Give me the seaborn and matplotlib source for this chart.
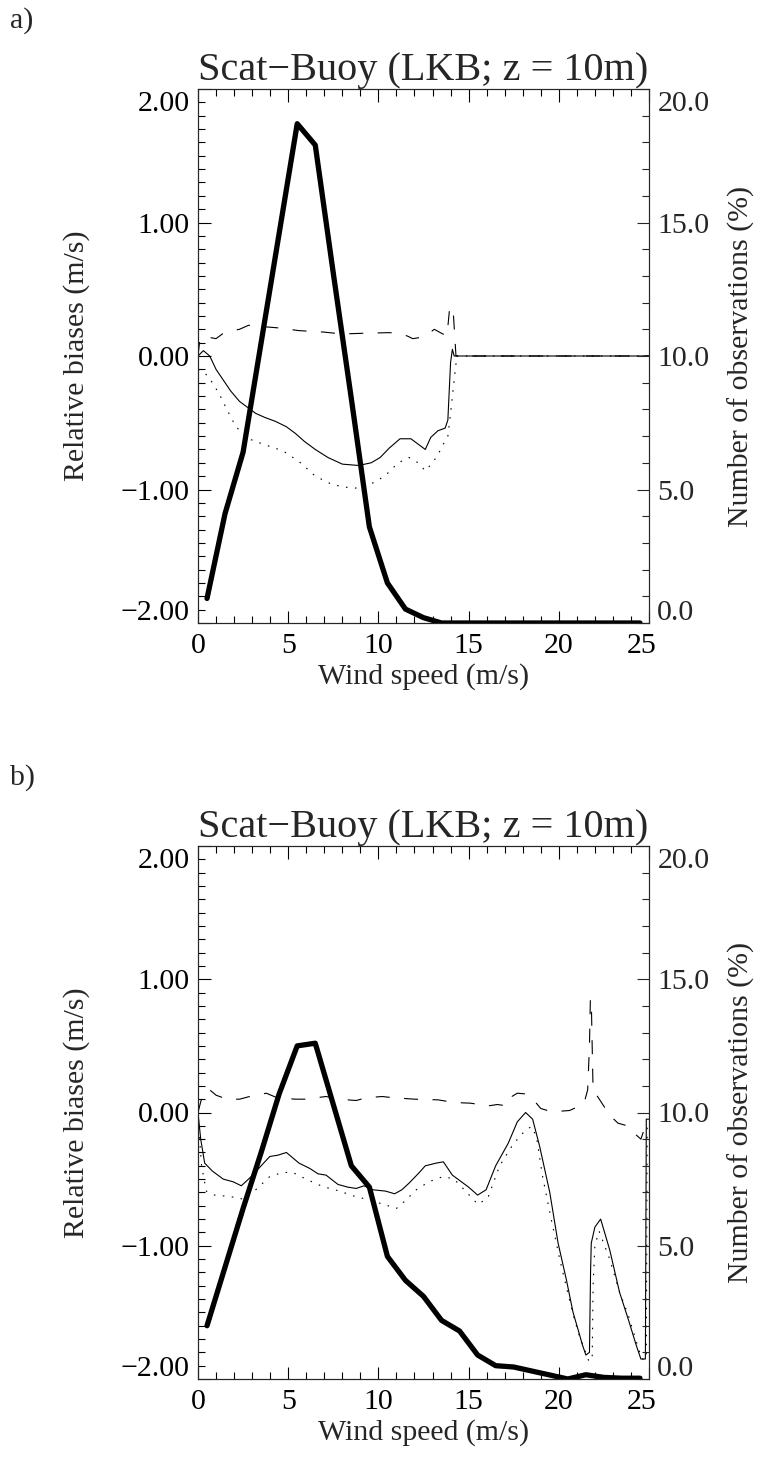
import matplotlib
matplotlib.use("Agg")
import seaborn as sns
from matplotlib import pyplot as plt
from matplotlib import transforms
from matplotlib.ticker import FixedLocator, MultipleLocator, FuncFormatter

# ---- data ----
wind_bins = [0.5, 1.5, 2.5, 3.5, 4.5, 5.5, 6.5, 7.5, 8.5, 9.5, 10.5, 11.5, 12.5,
             13.5, 14.5, 15.5, 16.5, 17.5, 18.5, 19.5, 20.5, 21.5, 22.5, 23.5, 24.5]

# number of observations (%), panel a / b
obs_a = [0.92, 4.1, 6.4, 10.5, 14.6, 18.7, 17.9, 13.1, 8.4, 3.6, 1.5, 0.52, 0.2,
         0.0, 0.0, 0.0, 0.0, 0.0, 0.0, 0.0, 0.0, 0.0, 0.0, 0.0, 0.0]
obs_b = [2.0, 4.2, 6.4, 8.5, 10.7, 12.5, 12.6, 10.3, 8.0, 7.2, 4.6, 3.7, 3.1,
         2.2, 1.8, 0.9, 0.5, 0.45, 0.3, 0.15, 0.0, 0.16, 0.06, 0.03, 0.03]

# panel a, relative biases (m/s)
a_solid_x = [0.0, 0.3, 0.65, 1.0, 1.4, 1.8, 2.3, 2.8, 3.2, 3.7, 4.3, 4.9, 5.4, 5.9, 6.5,
             7.2, 8.0, 8.9, 9.6, 10.1, 10.6, 11.2, 11.8, 12.2, 12.6, 12.9, 13.3, 13.7,
             13.85, 14.0, 14.1, 14.2, 25.0]
a_solid_y = [0.0, 0.04, 0.0, -0.10, -0.18, -0.26, -0.34, -0.39, -0.43, -0.46, -0.49, -0.53,
             -0.58, -0.64, -0.70, -0.76, -0.81, -0.82, -0.80, -0.76, -0.69, -0.62, -0.62,
             -0.66, -0.70, -0.61, -0.56, -0.54, -0.48, -0.05, 0.05, 0.0, 0.0]

a_dot_x = [0.0, 0.4, 0.8, 1.2, 1.6, 2.1, 2.8, 3.6, 4.7, 5.6, 6.5, 7.4, 8.0, 8.7, 9.4, 10.0,
           10.5, 11.1, 11.7, 12.2, 12.6, 13.0, 13.3, 13.6, 13.85, 14.0, 14.2, 14.35, 25.0]
a_dot_y = [-0.10, -0.13, -0.20, -0.29, -0.40, -0.53, -0.62, -0.66, -0.71, -0.79, -0.90, -0.96,
           -0.98, -0.99, -0.97, -0.93, -0.88, -0.80, -0.76, -0.80, -0.86, -0.80, -0.74, -0.66,
           -0.60, -0.43, -0.18, 0.0, 0.0]

a_dash_x = [0.0, 0.1, 0.2, 0.6, 1.0, 1.4, 1.9, 2.3, 2.8, 3.6, 4.5, 5.6, 6.9, 8.0, 9.1, 10.6,
            11.1, 11.6, 11.9, 12.4, 12.8, 13.1, 13.5, 13.8, 13.95, 14.0, 14.15, 14.2, 14.3, 25.0]
a_dash_y = [0.0, 0.12, 0.14, 0.14, 0.13, 0.17, 0.19, 0.20, 0.23, 0.22, 0.21, 0.19, 0.18, 0.165,
            0.17, 0.175, 0.17, 0.15, 0.13, 0.14, 0.17, 0.20, 0.17, 0.15, 0.36, 0.37, 0.33,
            0.22, 0.0, 0.0]

# panel b, relative biases (m/s)
b_solid_x = [0.0, 0.15, 0.37, 0.8, 1.4, 1.95, 2.4, 2.96, 3.5, 3.98, 4.44, 4.9, 5.6, 6.2, 6.65,
             7.1, 7.76, 8.3, 8.77, 9.2, 9.7, 10.4, 10.9, 11.3, 11.7, 12.2, 12.6, 13.2, 13.6,
             14.1, 14.6, 15.0, 15.5, 15.97, 16.5, 17.2, 17.7, 18.16, 18.55, 18.94, 19.5, 19.96,
             20.42, 20.79, 21.07, 21.3, 21.5, 21.7, 21.76, 21.8, 22.0, 22.32, 22.82, 23.37,
             23.87, 24.3, 24.55, 24.8, 24.85, 25.0]
b_solid_y = [0.0, -0.2, -0.38, -0.44, -0.50, -0.52, -0.55, -0.48, -0.40, -0.33, -0.32, -0.30,
             -0.38, -0.42, -0.46, -0.47, -0.54, -0.56, -0.57, -0.55, -0.58, -0.59, -0.61, -0.58,
             -0.53, -0.46, -0.40, -0.38, -0.37, -0.47, -0.52, -0.56, -0.62, -0.58, -0.40, -0.23,
             -0.07, 0.0, -0.05, -0.255, -0.60, -0.98, -1.255, -1.50, -1.63, -1.74, -1.82, -1.80,
             -1.2, -0.98, -0.86, -0.80, -1.03, -1.35, -1.56, -1.75, -1.85, -1.85, -0.05, -0.05]

b_dot_x = [0.0, 0.2, 0.46, 0.92, 1.75, 2.5, 3.2, 3.98, 4.7, 5.25, 5.99, 6.9, 7.85, 8.7, 9.5,
           10.3, 11.0, 11.5, 12.1, 12.8, 13.6, 14.2, 14.9, 15.52, 16.07, 16.72, 17.46, 18.1,
           18.48, 18.76, 19.1, 19.58, 20.05, 20.42, 20.8, 21.1, 21.4, 21.65, 21.85, 21.9, 22.0,
           22.23, 22.82, 23.37, 23.85, 24.3, 24.6, 24.85, 24.9, 25.0]
b_dot_y = [-0.05, -0.4, -0.59, -0.62, -0.63, -0.65, -0.58, -0.48, -0.45, -0.45, -0.50, -0.555,
           -0.59, -0.63, -0.655, -0.69, -0.72, -0.66, -0.58, -0.52, -0.48, -0.50, -0.60, -0.69,
           -0.64, -0.40, -0.24, -0.14, -0.105, -0.18, -0.48, -0.80, -1.10, -1.31, -1.52, -1.66,
           -1.77, -1.86, -1.86, -1.3, -1.0, -0.89, -1.10, -1.35, -1.52, -1.72, -1.85, -1.85,
           -0.1, -0.1]

b_dash_x = [0.0, 0.15, 0.35, 0.65, 1.0, 1.6, 2.31, 2.86, 3.3, 3.78, 4.4, 5.4, 6.0, 6.5, 7.1,
            7.8, 8.77, 9.3, 10.2, 10.9, 12.0, 13.3, 14.2, 15.1, 16.1, 16.6, 17.1, 17.4, 17.7,
            18.1, 18.6, 19.0, 19.5, 20.1, 20.6, 21.0, 21.4, 21.6, 21.7, 21.75, 21.8, 21.85,
            21.9, 22.0, 22.27, 22.82, 23.28, 23.8, 24.3, 24.55, 24.75, 25.0]
b_dash_y = [0.0, 0.08, 0.16, 0.17, 0.13, 0.10, 0.10, 0.12, 0.13, 0.145, 0.11, 0.10, 0.10, 0.11,
            0.12, 0.10, 0.09, 0.11, 0.12, 0.11, 0.10, 0.095, 0.075, 0.07, 0.05, 0.06, 0.05,
            0.12, 0.145, 0.14, 0.095, 0.03, 0.01, 0.01, 0.015, 0.04, 0.07, 0.17, 0.5, 0.85,
            0.85, 0.5, 0.17, 0.15, 0.095, -0.02, -0.08, -0.10, -0.17, -0.20, -0.12, -0.08]

TITLE = "Scat\u2212Buoy (LKB; z = 10m)"

sns.set_style("ticks")
plt.rcParams['font.family'] = ['Liberation Serif', 'DejaVu Serif']
plt.rcParams['axes.linewidth'] = 0.8
FS = 21.5


def fmt(decimals):
    return FuncFormatter(lambda v, p: f"{v:.{decimals}f}".replace('-', '\u2212'))


def shift(label, fig, dx_px, dy_px):
    off = transforms.ScaledTranslation(dx_px / 100, dy_px / 100, fig.dpi_scale_trans)
    label.set_transform(label.get_transform() + off)


def draw_panel(fig, ax, solid, dot, dash, obs):
    sns.lineplot(x=solid[0], y=solid[1], ax=ax, color='black', linewidth=0.8,
                 estimator=None, sort=False)
    sns.lineplot(x=dot[0], y=dot[1], ax=ax, color='black', linewidth=0.8,
                 linestyle=(0, (1.4, 6.7)), estimator=None, sort=False)
    sns.lineplot(x=dash[0], y=dash[1], ax=ax, color='black', linewidth=0.8,
                 linestyle=(0, (12.6, 13.0)), estimator=None, sort=False)
    ax.set_xlim(0, 25)
    ax.set_ylim(-2, 2)
    ax.xaxis.set_major_locator(FixedLocator([0, 5, 10, 15, 20, 25]))
    ax.xaxis.set_minor_locator(MultipleLocator(1))
    ax.yaxis.set_major_locator(FixedLocator([-2, -1, 0, 1, 2]))
    ax.yaxis.set_minor_locator(MultipleLocator(0.1))
    ax.yaxis.set_major_formatter(fmt(2))
    ax.tick_params(which='both', direction='in', top=True, right=False,
                   labelsize=FS, width=0.8, colors='black')
    ax.tick_params(which='major', length=9)
    ax.tick_params(which='minor', length=5)
    ax.tick_params(axis='x', pad=7)
    ax.tick_params(axis='y', pad=6)
    ax.set_xlabel('Wind speed (m/s)', fontsize=FS, labelpad=3)
    ax.set_ylabel('Relative biases (m/s)', fontsize=FS, labelpad=22)
    ax.set_title(TITLE, fontsize=29, pad=5)

    ax2 = ax.twinx()
    sns.lineplot(x=wind_bins, y=obs, ax=ax2, color='black', linewidth=3.8,
                 estimator=None, sort=False)
    ax2.set_ylim(0, 20)
    ax2.yaxis.set_major_locator(FixedLocator([0, 5, 10, 15, 20]))
    ax2.yaxis.set_minor_locator(MultipleLocator(1))
    ax2.yaxis.set_major_formatter(fmt(1))
    ax2.tick_params(which='both', direction='in', labelsize=FS, width=0.8, pad=6)
    ax2.tick_params(which='major', length=9)
    ax2.tick_params(which='minor', length=5)
    ax2.set_ylabel('Number of observations (%)', fontsize=FS, labelpad=13)
    for sp in ax2.spines.values():
        sp.set_linewidth(0.8)

    # end labels pulled inside the frame, as in the original
    yt = ax.yaxis.get_major_ticks()
    shift(yt[0].label1, fig, 0, 13)
    shift(yt[-1].label1, fig, 0, -12)
    rt = ax2.yaxis.get_major_ticks()
    shift(rt[0].label2, fig, 0, 13)
    shift(rt[-1].label2, fig, 0, -12)
    xt = ax.xaxis.get_major_ticks()
    shift(xt[-1].label1, fig, -7, 0)


fig = plt.figure(figsize=(7.63, 14.57), dpi=100)
ax_a = fig.add_axes([198 / 763, 1 - 623 / 1457, 451 / 763, 534 / 1457])
ax_b = fig.add_axes([198 / 763, 1 - 1379 / 1457, 451 / 763, 533 / 1457])

draw_panel(fig, ax_a, (a_solid_x, a_solid_y), (a_dot_x, a_dot_y), (a_dash_x, a_dash_y), obs_a)
draw_panel(fig, ax_b, (b_solid_x, b_solid_y), (b_dot_x, b_dot_y), (b_dash_x, b_dash_y), obs_b)

fig.text(10 / 763, 1 - 21 / 1457, 'a)', fontsize=FS, va='center', ha='left')
fig.text(10 / 763, 1 - 778 / 1457, 'b)', fontsize=FS, va='center', ha='left')

fig.savefig('out.png', dpi=100, facecolor='white')
